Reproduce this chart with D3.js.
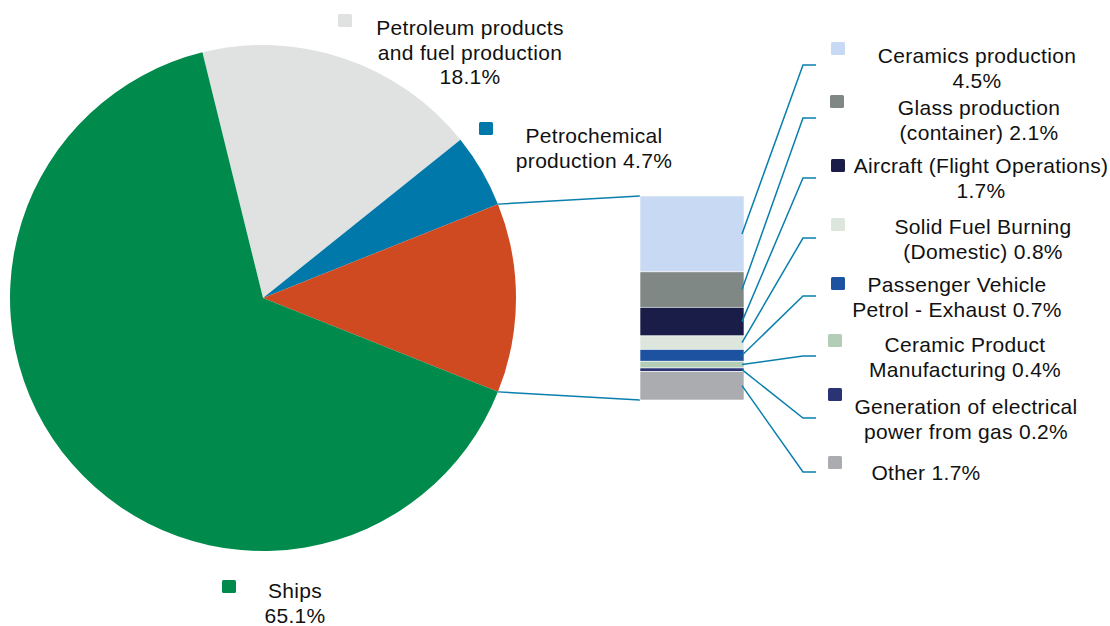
<!DOCTYPE html>
<html>
<head>
<meta charset="utf-8">
<script src="https://cdn.jsdelivr.net/npm/d3@7"></script>
<style>
  html, body { margin: 0; padding: 0; background: #fff; }
  svg text { font-family: "Liberation Sans", Arial, sans-serif; font-size: 21px; fill: #111; }
</style>
</head>
<body>
<script>
// ---------- DATA ----------
const pieCategories = ["Petroleum products and fuel production", "Petrochemical production", "Other sources", "Ships"];
const pieValues = [18.1, 4.7, 12.1, 65.1];
const pieLabelLines = [
  ["Petroleum products", "and fuel production", "18.1%"],
  ["Petrochemical", "production 4.7%"],
  null,
  ["Ships", "65.1%"]
];

const barCategories = ["Ceramics production", "Glass production (container)", "Aircraft (Flight Operations)",
  "Solid Fuel Burning (Domestic)", "Passenger Vehicle Petrol - Exhaust", "Ceramic Product Manufacturing",
  "Generation of electrical power from gas", "Other"];
const barValues = [4.5, 2.1, 1.7, 0.8, 0.7, 0.4, 0.2, 1.7];
const barLabelLines = [
  ["Ceramics production", "4.5%"],
  ["Glass production", "(container) 2.1%"],
  ["Aircraft (Flight Operations)", "1.7%"],
  ["Solid Fuel Burning", "(Domestic) 0.8%"],
  ["Passenger Vehicle", "Petrol - Exhaust 0.7%"],
  ["Ceramic Product", "Manufacturing 0.4%"],
  ["Generation of electrical", "power from gas 0.2%"],
  ["Other 1.7%"]
];

// ---------- STYLE / LAYOUT ----------
const pieColors = ["#e0e1e1", "#0079aa", "#cf4a20", "#008a4b"];
const barColors = ["#c8d9f3", "#7f8884", "#1a1d47", "#dce6dd", "#1d52a0", "#b3cdb6", "#2a3373", "#abacb0"];
const lineColor = "#0a7fae";

const W = 1110, H = 626;
const cx = 263, cy = 298, R = 253;
const barX0 = 640, barX1 = 744, barTop = 196, barBottom = 400;

const pieLabelLayout = [
  { x: 470, y: 35, mx: 338, my: 14 },
  { x: 594, y: 143, mx: 479, my: 122 },
  null,
  { x: 295, y: 598, mx: 222, my: 580 }
];
const barLabelLayout = [
  { x: 977, y: 63, mx: 831, my: 42, ey: 65 },
  { x: 979, y: 115, mx: 830, my: 95, ey: 118 },
  { x: 981, y: 173, mx: 831, my: 159, ey: 178 },
  { x: 983, y: 234, mx: 831, my: 218, ey: 238 },
  { x: 957, y: 292, mx: 831, my: 277, ey: 296 },
  { x: 965, y: 352, mx: 828, my: 334, ey: 356 },
  { x: 966, y: 414, mx: 828, my: 388, ey: 418 },
  { x: 926, y: 480, mx: 828, my: 456, ey: 472 }
];
const lineH = 24.5;

// ---------- DRAW ----------
const svg = d3.select("body").append("svg").attr("width", W).attr("height", H);

const total = d3.sum(pieValues);
const groupIdx = 2;
const before = d3.sum(pieValues.slice(0, groupIdx)) + pieValues[groupIdx] / 2;
const start = Math.PI / 2 - before / total * 2 * Math.PI;

const pie = d3.pie().sort(null).value(d => d).startAngle(start).endAngle(start + 2 * Math.PI);
const arcs = pie(pieValues);
const arc = d3.arc().innerRadius(0).outerRadius(R);

const gPie = svg.append("g").attr("transform", `translate(${cx},${cy})`);
gPie.selectAll("path").data(arcs).join("path")
  .attr("d", arc)
  .attr("fill", (d, i) => pieColors[i]);

// bar scale
const barTotal = d3.sum(barValues);
const y = d3.scaleLinear().domain([0, barTotal]).range([barTop, barBottom]);
const cum = [0];
barValues.forEach((v, i) => cum.push(cum[i] + v));

// connector lines from group slice to bar
const ga = arcs[groupIdx];
const rim = a => [cx + R * Math.sin(a), cy - R * Math.cos(a)];
const p0 = rim(ga.startAngle), p1 = rim(ga.endAngle);
svg.append("line").attr("x1", p0[0]).attr("y1", p0[1]).attr("x2", barX0).attr("y2", y(0))
  .attr("stroke", lineColor).attr("stroke-width", 1.5);
svg.append("line").attr("x1", p1[0]).attr("y1", p1[1]).attr("x2", barX0).attr("y2", y(barTotal))
  .attr("stroke", lineColor).attr("stroke-width", 1.5);

// stacked bar
svg.append("g").selectAll("rect").data(barValues).join("rect")
  .attr("x", barX0)
  .attr("y", (d, i) => y(cum[i]))
  .attr("width", barX1 - barX0)
  .attr("height", (d, i) => y(cum[i + 1]) - y(cum[i]))
  .attr("fill", (d, i) => barColors[i])
  .attr("stroke", "#ffffff").attr("stroke-width", 0.6);

// leader lines from bar segments to labels
const elbowX = 803, endX = 816;
barValues.forEach((v, i) => {
  const sy = y((cum[i] + cum[i + 1]) / 2);
  const L = barLabelLayout[i];
  svg.append("polyline")
    .attr("points", `${barX1 - 2},${sy} ${elbowX},${L.ey} ${endX},${L.ey}`)
    .attr("fill", "none").attr("stroke", lineColor).attr("stroke-width", 1.5);
});

// labels
function drawLabel(lines, L, color) {
  svg.append("rect").attr("x", L.mx).attr("y", L.my).attr("width", 14).attr("height", 13)
    .attr("rx", 1.5).attr("fill", color);
  const t = svg.append("text").attr("text-anchor", "middle").attr("letter-spacing", "0.3px");
  lines.forEach((s, k) => {
    t.append("tspan").attr("x", L.x).attr("y", L.y + k * lineH).text(s);
  });
}
pieLabelLines.forEach((lines, i) => { if (lines) drawLabel(lines, pieLabelLayout[i], pieColors[i]); });
barLabelLines.forEach((lines, i) => drawLabel(lines, barLabelLayout[i], barColors[i]));
</script>
</body>
</html>
